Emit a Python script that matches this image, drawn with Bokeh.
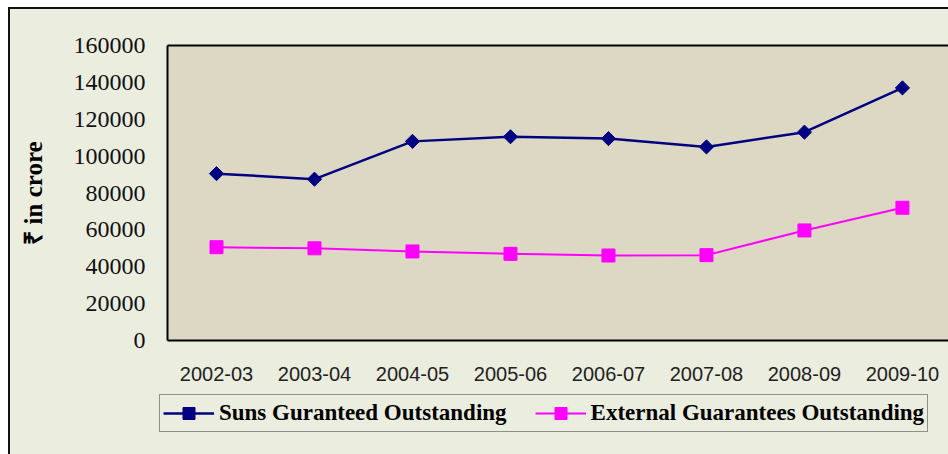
import math
from bokeh.plotting import figure
from bokeh.layouts import column
from bokeh.models import (FixedTicker, BasicTickFormatter, Legend, LegendItem,
                          LinearAxis, Range1d)
from bokeh.embed import file_html
from bokeh.resources import INLINE

years = ["2002-03", "2003-04", "2004-05", "2005-06", "2006-07", "2007-08", "2008-09", "2009-10"]
sums_guaranteed = [90500, 87500, 108000, 110500, 109500, 105000, 113000, 137000]
external_guarantees = [50600, 50000, 48300, 47000, 46100, 46300, 59700, 72000]
y_ticks = [0, 20000, 40000, 60000, 80000, 100000, 120000, 140000, 160000]
series_names = ["Suns Guranteed Outstanding", "External Guarantees Outstanding"]

xs = list(range(len(years)))

bg = ("linear-gradient(#111,#111) 8px 7px / 100% 2px no-repeat, "
      "linear-gradient(#111,#111) 8px 7px / 2px 100% no-repeat, "
      "linear-gradient(#EBEDDF,#EBEDDF) 8px 7px / 100% 100% no-repeat, #FFFFFF")

H1 = 392
p = figure(width=948, height=H1, output_backend="svg", toolbar_location=None,
           x_range=Range1d(-0.5, 7.47), y_range=Range1d(0, 160000),
           min_border_left=167, min_border_top=45, min_border_bottom=H1 - 340,
           min_border_right=0)
p.frame_align = False
p.background_fill_color = "#DDD8C4"
p.border_fill_alpha = 0
p.outline_line_color = None
p.xgrid.grid_line_color = None
p.ygrid.grid_line_color = None

# axes
xa = p.xaxis[0]
xa.ticker = FixedTicker(ticks=xs)
xa.major_label_overrides = {i: y for i, y in enumerate(years)}
xa.major_label_text_font = "Liberation Sans"
xa.major_label_text_font_size = "20px"
xa.major_label_text_color = "#222222"
xa.major_label_standoff = 26
xa.major_tick_line_color = None
xa.minor_tick_line_color = None
xa.major_tick_out = 0
xa.axis_line_color = "#000000"
xa.axis_line_width = 2

ya = p.yaxis[0]
ya.ticker = FixedTicker(ticks=y_ticks)
ya.formatter = BasicTickFormatter(use_scientific=False)
ya.major_label_text_font = "Liberation Serif"
ya.major_label_text_font_size = "24px"
ya.major_label_text_color = "#111111"
ya.major_label_standoff = 22
ya.major_tick_line_color = None
ya.minor_tick_line_color = None
ya.major_tick_out = 0
ya.axis_line_color = "#000000"
ya.axis_line_width = 2
ya.axis_label = "₹ in crore"
ya.axis_label_text_font = "Liberation Serif"
ya.axis_label_text_font_style = "bold"
ya.axis_label_text_font_size = "25px"
ya.axis_label_text_color = "#000000"
ya.axis_label_standoff = 24

top = LinearAxis(ticker=FixedTicker(ticks=[]), major_label_text_font_size="0px",
                 major_tick_line_color=None, minor_tick_line_color=None,
                 axis_line_color="#000000", axis_line_width=2)
p.add_layout(top, "above")

line1 = dict(line_color="#000080", line_width=2.5)
mark1 = dict(marker="square", angle=math.pi / 4, size=10, fill_color="#000080", line_color="#000080")
line2 = dict(line_color="#FF00FF", line_width=2)
mark2 = dict(marker="square", size=13, fill_color="#FF00FF", line_color="#FF00FF")

p.line(xs, sums_guaranteed, **line1)
p.scatter(xs, sums_guaranteed, **mark1)
p.line(xs, external_guarantees, **line2)
p.scatter(xs, external_guarantees, **mark2)

# legend strip: same series, drawn outside its (tiny) range so only the legend shows
H2 = 454 - H1
q = figure(width=948, height=H2, output_backend="svg", toolbar_location=None,
           x_range=Range1d(0, 1), y_range=Range1d(0, 1),
           x_axis_type=None, y_axis_type=None,
           min_border_left=0, min_border_right=0, min_border_top=0, min_border_bottom=0)
q.frame_align = False
q.background_fill_alpha = 0
q.border_fill_alpha = 0
q.outline_line_color = None
q.grid.grid_line_color = None
q1l = q.line(xs, sums_guaranteed, **line1)
q1m = q.scatter(xs, sums_guaranteed, **mark1)
q2l = q.line(xs, external_guarantees, **line2)
q2m = q.scatter(xs, external_guarantees, **mark2)

legend = Legend(items=[LegendItem(label=series_names[0], renderers=[q1l, q1m]),
                       LegendItem(label=series_names[1], renderers=[q2l, q2m])],
                orientation="horizontal", location=(159, 454 - 432))
legend.label_text_font = "Liberation Serif"
legend.label_text_font_style = "bold"
legend.label_text_font_size = "23px"
legend.label_text_color = "#000000"
legend.glyph_width = 51
legend.glyph_height = 30
legend.label_height = 20
legend.label_standoff = 5
legend.spacing = 28
legend.padding = 3
legend.margin = 0
legend.background_fill_color = "#EBEDDF"
legend.background_fill_alpha = 1
legend.border_line_color = "#333333"
legend.border_line_width = 1.5
q.add_layout(legend)

layout = column(p, q, spacing=0, styles={"background": bg})
open("out.html", "w").write(file_html(layout, INLINE))
